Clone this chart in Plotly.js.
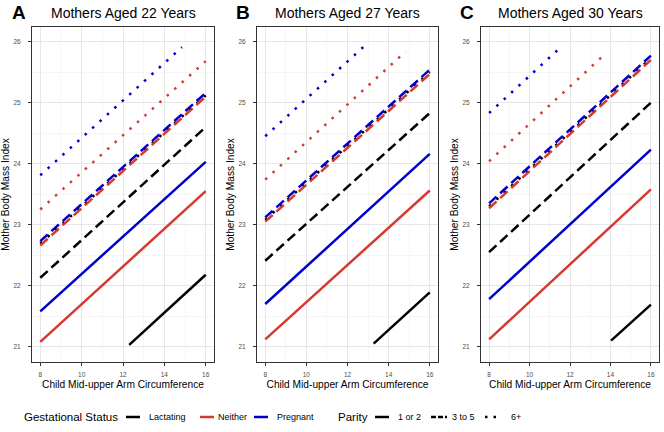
<!DOCTYPE html>
<html>
<head>
<meta charset="utf-8">
<script src="https://cdn.plot.ly/plotly-3.0.1.min.js"></script>
<style>
html,body{margin:0;padding:0;background:#fff;}
#chart{width:664px;height:432px;}
</style>
</head>
<body>
<div id="chart"></div>
<script>
// ---- data ----
const panelTitles = ["Mothers Aged 22 Years", "Mothers Aged 27 Years", "Mothers Aged 30 Years"];
const panelLetters = ["A", "B", "C"];
const statuses = ["Lactating", "Neither", "Pregnant"];
const parities = ["1 or 2", "3 to 5", "6+"];
// line order: Lactating(1or2, 3to5, 6+), Neither(1or2, 3to5, 6+), Pregnant(1or2, 3to5, 6+)
const age22_xStart = [12.3, 8, 8, 8, 8, 8, 8, 8, 8];
const age22_xEnd   = [16, 16, 16, 16, 16, 16, 16, 16, 14.85];
const age22_yStart = [21.03, 22.13, 22.69, 21.08, 22.66, 23.25, 21.58, 22.73, 23.81];
const age22_yEnd   = [22.18, 24.60, 25.12, 23.55, 25.10, 25.68, 24.03, 25.16, 25.91];

const age27_xStart = [13.27, 8, 8, 8, 8, 8, 8, 8, 8];
const age27_xEnd   = [16, 16, 16, 16, 16, 14.83, 16, 16, 12.96];
const age27_yStart = [21.05, 22.41, 23.08, 21.12, 23.05, 23.74, 21.70, 23.12, 24.45];
const age27_yEnd   = [21.89, 24.83, 25.50, 23.56, 25.47, 25.84, 24.16, 25.54, 25.97];

const age30_xStart = [14.03, 8, 8, 8, 8, 8, 8, 8, 8];
const age30_xEnd   = [16, 16, 16, 16, 16, 13.71, 16, 16, 11.45];
const age30_yStart = [21.10, 22.55, 23.30, 21.12, 23.27, 24.04, 21.78, 23.35, 24.83];
const age30_yEnd   = [21.69, 25.00, 25.73, 23.58, 25.70, 25.79, 24.23, 25.77, 25.88];

const xTicks = [8, 10, 12, 14, 16];
const yTicks = [21, 22, 23, 24, 25, 26];

// ---- styling ----
const statusColors = {"Lactating": "#000000", "Neither": "#D63A2F", "Pregnant": "#0000CC"};
const parityDash = {"1 or 2": "solid", "3 to 5": "10px,5px", "6+": "2.5px,7.5px"};
const LW = 2.5;

const panels = [
  [age22_xStart, age22_xEnd, age22_yStart, age22_yEnd],
  [age27_xStart, age27_xEnd, age27_yStart, age27_yEnd],
  [age30_xStart, age30_xEnd, age30_yStart, age30_yEnd]
];

const W = 664, H = 432;
const px = v => v / W;
const py = v => 1 - v / H;
const xDomains = [[px(32), px(214)], [px(257), px(438)], [px(481), px(659)]];
const yDomain = [py(362), py(27)];

const traces = [];
panels.forEach((p, pi) => {
  const [xs, xe, ys, ye] = p;
  let k = 0;
  statuses.forEach(st => {
    parities.forEach(pa => {
      traces.push({
        type: "scatter", mode: "lines",
        x: [xs[k], xe[k]], y: [ys[k], ye[k]],
        xaxis: pi === 0 ? "x" : "x" + (pi + 1),
        yaxis: pi === 0 ? "y" : "y" + (pi + 1),
        name: st + ", " + pa,
        showlegend: false,
        hoverinfo: "skip",
        line: {color: statusColors[st], width: LW, dash: parityDash[pa]}
      });
      k++;
    });
  });
});

const font = "Liberation Sans, Arial, sans-serif";
const layout = {
  width: W, height: H,
  margin: {l: 0, r: 0, t: 0, b: 0},
  paper_bgcolor: "#ffffff", plot_bgcolor: "#ffffff",
  font: {family: font, color: "#000"},
  showlegend: false,
  annotations: [], shapes: []
};

xDomains.forEach((dom, i) => {
  const sx = i === 0 ? "" : String(i + 1);
  layout["xaxis" + sx] = {
    domain: dom, range: [7.6, 16.4], anchor: "y" + sx,
    tickvals: xTicks, ticktext: xTicks.map(String),
    showgrid: true, gridcolor: "#E6E6E6", gridwidth: 1,
    minor: {dtick: 1, tick0: 9, showgrid: true, gridcolor: "#F0F0F0", gridwidth: 0.6},
    zeroline: false,
    showline: true, linecolor: "#333333", linewidth: 1, mirror: true,
    ticks: "outside", ticklen: 3, tickcolor: "#333333", tickwidth: 1,
    tickfont: {size: 6.5, color: "#4D4D4D", family: font},
    ticklabelstandoff: 3,
    title: {text: "Child Mid-upper Arm Circumference", font: {size: 10.2, color: "#000", family: font}, standoff: 4},
    fixedrange: true
  };
  layout["yaxis" + sx] = {
    domain: yDomain, range: [20.75, 26.24], anchor: "x" + sx,
    tickvals: yTicks, ticktext: yTicks.map(String),
    showgrid: true, gridcolor: "#E6E6E6", gridwidth: 1,
    minor: {dtick: 0.5, tick0: 20.5, showgrid: true, gridcolor: "#F0F0F0", gridwidth: 0.6},
    zeroline: false,
    showline: true, linecolor: "#333333", linewidth: 1, mirror: true,
    ticks: "outside", ticklen: 3, tickcolor: "#333333", tickwidth: 1,
    tickfont: {size: 6.5, color: "#4D4D4D", family: font},
    ticklabelstandoff: 6,
    title: {text: "Mother Body Mass Index", font: {size: 10.2, color: "#000", family: font}, standoff: 1},
    fixedrange: true
  };
  const cx = (dom[0] + dom[1]) / 2;
  layout.annotations.push({
    xref: "paper", yref: "paper", x: cx, y: py(13), xanchor: "center", yanchor: "middle",
    text: panelTitles[i], showarrow: false, font: {size: 14, color: "#000", family: font}
  });
  layout.annotations.push({
    xref: "paper", yref: "paper", x: px([10, 234, 458][i]), y: py(13), xanchor: "left", yanchor: "middle",
    text: "<b>" + panelLetters[i] + "</b>", showarrow: false, font: {size: 19, color: "#000", family: font}
  });
});

// ---- manual legend ----
const legY = 417;
function legText(x, txt, size) {
  layout.annotations.push({
    xref: "paper", yref: "paper", x: px(x), y: py(legY), xanchor: "left", yanchor: "middle",
    text: txt, showarrow: false, font: {size: size, color: "#000", family: font}
  });
}
function legLine(x0, x1, color, dash) {
  layout.shapes.push({
    type: "line", xref: "paper", yref: "paper", x0: px(x0), x1: px(x1), y0: py(legY), y1: py(legY),
    line: {color: color, width: LW, dash: dash}
  });
}
legText(22, "Gestational Status", 11.5);
const statusLegX = [[126, 140, 147], [200, 214, 216], [254, 268, 275]];
statuses.forEach((st, i) => {
  legLine(statusLegX[i][0], statusLegX[i][1], statusColors[st], "solid");
  legText(statusLegX[i][2], st, 9);
});
legText(336, "Parity", 11.5);
const parityLegX = [[375, 389, 396], [431, 447, 450], [485, 501, 509]];
const parityLegDash = {"1 or 2": "solid", "3 to 5": "5px,2px", "6+": "2.5px,6px"};
parities.forEach((pa, i) => {
  legLine(parityLegX[i][0], parityLegX[i][1], "#000", parityLegDash[pa]);
  legText(parityLegX[i][2], pa, 9);
});

Plotly.newPlot("chart", traces, layout, {staticPlot: true, displayModeBar: false});
</script>
</body>
</html>
